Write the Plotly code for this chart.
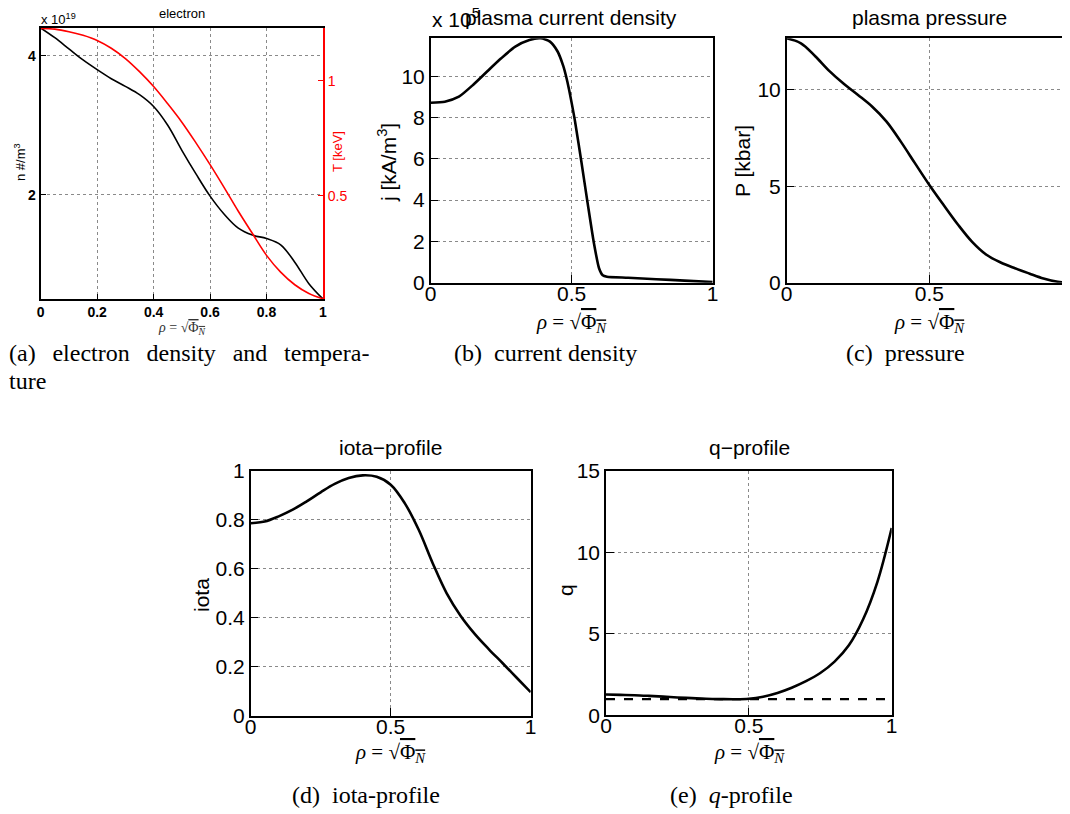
import plotly.graph_objects as go

# page body has an 8px margin: the figure is sized to fill the rest of the window
OFF = 8
W, H = 1070 - OFF, 814 - OFF

# ---------------- data ----------------
rho = [0.0, 0.05, 0.1, 0.15, 0.2, 0.25, 0.3, 0.35, 0.4, 0.45, 0.5, 0.55,
       0.6, 0.65, 0.7, 0.75, 0.8, 0.85, 0.9, 0.95, 1.0]

# (a) electron density [1e19 #/m^3] and temperature [keV]
ne = [4.40, 4.26, 4.10, 3.94, 3.80, 3.67, 3.56, 3.44, 3.27, 3.00, 2.64, 2.30,
      1.98, 1.72, 1.52, 1.42, 1.37, 1.28, 1.03, 0.72, 0.50]
Te = [1.228, 1.225, 1.214, 1.198, 1.176, 1.142, 1.097, 1.040, 0.975, 0.900,
      0.820, 0.730, 0.635, 0.535, 0.432, 0.335, 0.240, 0.167, 0.112, 0.074, 0.051]

# (b) plasma current density [x1e5 kA/m^3]
rho_j = [0.0, 0.05, 0.1, 0.15, 0.2, 0.25, 0.3, 0.35, 0.39, 0.423, 0.45, 0.47,
         0.48, 0.49, 0.5, 0.512, 0.535, 0.556, 0.579, 0.597, 0.61, 0.625, 0.7, 0.8, 0.9, 1.0]
j = [8.72, 8.77, 9.01, 9.58, 10.23, 10.87, 11.44, 11.76, 11.84, 11.68, 11.20, 10.50,
     10.00, 9.40, 8.70, 7.80, 5.80, 3.90, 1.90, 0.70, 0.36, 0.29, 0.24, 0.17, 0.10, 0.03]

# (c) plasma pressure [kbar]
P = [12.68, 12.42, 11.75, 10.98, 10.32, 9.74, 9.13, 8.36, 7.32, 6.19, 5.07, 4.03,
     3.02, 2.12, 1.45, 1.05, 0.75, 0.48, 0.22, 0.05, 0.0]

# (d) rotational transform
iota = [0.786, 0.793, 0.814, 0.841, 0.875, 0.912, 0.946, 0.970, 0.981, 0.975, 0.943,
        0.868, 0.759, 0.623, 0.500, 0.408, 0.335, 0.273, 0.215, 0.156, 0.097]

# (e) safety factor
q = [1.28, 1.26, 1.24, 1.20, 1.15, 1.10, 1.06, 1.02, 1.00, 0.99, 1.02, 1.15,
     1.38, 1.70, 2.10, 2.60, 3.30, 4.30, 5.90, 8.20, 11.50]
q_ref = [1.0, 1.0]
q_ref_x = [0.0, 1.0]

# ---------------- helpers (window pixel -> paper) ----------------
def px(x):
    return (x - OFF) / W

def py(y):
    return 1 - (y - OFF) / H

SANS = "Liberation Sans, Arial, sans-serif"
SERIF = "Liberation Serif, Times New Roman, serif"
BIG = dict(family=SANS, size=21, color="black")
SMALL = dict(family=SANS, size=13, color="black")
GRID = dict(showgrid=True, gridcolor="#8a8a8a", griddash="dot", gridwidth=1)

def xax(dom, rng, tickvals, font, anchor, mirror=True, lw=1.5, ticklen=8, standoff=-9):
    return dict(domain=[px(dom[0]), min(1.0, px(dom[1]))], range=rng, tickvals=tickvals,
                ticktext=[("%g" % t) for t in tickvals], anchor=anchor,
                ticks="inside", ticklen=ticklen, tickcolor="black",
                showline=True, linecolor="black", linewidth=lw, mirror=mirror,
                tickfont=font, zeroline=False, automargin=False,
                ticklabelstandoff=standoff, **GRID)

def yax(dom, rng, tickvals, font, anchor, mirror=True, lw=1.5, ticklen=8):
    return dict(domain=[py(dom[1]), py(dom[0])], range=rng, tickvals=tickvals,
                ticktext=[("%g" % t) for t in tickvals], anchor=anchor,
                ticks="inside", ticklen=ticklen, tickcolor="black",
                showline=True, linecolor="black", linewidth=lw, mirror=mirror,
                tickfont=font, zeroline=False, automargin=False, **GRID)

fig = go.Figure()

def line(xs, ys, xa, ya, width=2.6, color="black", smooth=1.0, dash="solid", shape="spline"):
    ln = dict(color=color, width=width, dash=dash, shape=shape)
    if shape == "spline":
        ln["smoothing"] = smooth
    fig.add_trace(go.Scatter(x=xs, y=ys, mode="lines", line=ln, xaxis=xa, yaxis=ya,
                             showlegend=False, hoverinfo="skip"))

line(rho, ne, "x", "y", width=1.6)
line(rho, Te, "x", "y6", width=1.6, color="red")
line(rho_j, j, "x2", "y2", smooth=0.6)
line(rho, P, "x3", "y3")
line(rho, iota, "x4", "y4")
line(rho, q, "x5", "y5")
line(q_ref_x, q_ref, "x5", "y5", width=2.4, dash="dash", shape="linear")

SMALLB = dict(SMALL, size=14, weight="bold")

fig.update_layout(
    template="none",
    width=W, height=H, margin=dict(l=0, r=0, t=0, b=0, autoexpand=False),
    paper_bgcolor="white", plot_bgcolor="white", showlegend=False,
    xaxis=xax((40.7, 323), [0, 1], [0, 0.2, 0.4, 0.6, 0.8, 1], SMALLB, "y", lw=2, ticklen=5, standoff=-1),
    yaxis=yax((28, 299), [0.5, 4.4], [2, 4], SMALLB, "x", mirror=False, lw=2, ticklen=5),
    yaxis6=dict(overlaying="y", side="right", anchor="x", range=[0.05, 1.23],
                tickvals=[0.5, 1], ticktext=["0.5", "1"], ticks="inside", ticklen=5,
                tickcolor="red", showline=True, linecolor="red", linewidth=2,
                tickfont=dict(SMALL, size=14, color="red"), showgrid=False,
                zeroline=False, automargin=False),
    xaxis2=xax((430.7, 712.7), [0, 1], [0, 0.5, 1], BIG, "y2"),
    yaxis2=yax((38.3, 282.7), [0, 11.84], [0, 2, 4, 6, 8, 10], BIG, "x2"),
    xaxis3=xax((786.7, 1070), [0, 0.993], [0, 0.5, 1], BIG, "y3"),
    yaxis3=yax((38.3, 282.7), [0, 12.68], [0, 5, 10], BIG, "x3", mirror=False),
    xaxis4=xax((250.7, 530.7), [0, 1], [0, 0.5, 1], BIG, "y4"),
    yaxis4=yax((470.7, 716), [0, 1], [0, 0.2, 0.4, 0.6, 0.8, 1], BIG, "x4"),
    xaxis5=xax((606, 891.7), [0, 1], [0, 0.5, 1], BIG, "y5"),
    yaxis5=yax((471, 715.4), [0, 15], [0, 5, 10, 15], BIG, "x5"),
)

RHO = "<i>ρ</i> = √<span style='text-decoration:overline'>Φ<sub><i>N</i></sub></span>"

def ann(text, x, y, font, xanchor="center", yanchor="middle", angle=0):
    fig.add_annotation(text=text, x=px(x), y=py(y), xref="paper", yref="paper",
                       xanchor=xanchor, yanchor=yanchor, showarrow=False,
                       font=font, textangle=angle)

# (a) texts
ann("electron", 182, 14, SMALL)
ann("x 10<sup>19</sup>", 39, 29, SMALL, xanchor="left", yanchor="bottom")
ann("n #/m<sup>3</sup>", 20, 162, SMALL, angle=-90)
ann("T [keV]", 337, 152, dict(SMALL, color="red"), angle=-90)
ann(RHO, 182, 328, dict(family=SERIF, size=14, color="#333"))

# (b)
ann("x 10<sup>5</sup>", 430, 33, BIG, xanchor="left", yanchor="bottom")
ann("plasma current density", 571, 17, BIG)
ann("j [kA/m<sup>3</sup>]", 387, 163, BIG, angle=-90)
ann(RHO, 571, 323, dict(family=SERIF, size=21, color="black"))

# (c)
ann("plasma pressure", 929, 17, BIG)
ann("P [kbar]", 743, 161, BIG, angle=-90)
ann(RHO, 929, 323, dict(family=SERIF, size=21, color="black"))

# (d)
ann("iota−profile", 390, 447, BIG)
ann("iota", 201, 595, BIG, angle=-90)
ann(RHO, 390, 753, dict(family=SERIF, size=21, color="black"))

# (e)
ann("q−profile", 749, 447, BIG)
ann("q", 565, 590, BIG, angle=-90)
ann(RHO, 749, 753, dict(family=SERIF, size=21, color="black"))

# captions
CAP = dict(family=SERIF, size=24, color="black")
GAP = "&nbsp;&nbsp;&#8201;"
ann("(a)" + GAP + "electron" + GAP + "density" + GAP + "and" + GAP + "tempera-", 7, 353, CAP, xanchor="left")
ann("ture", 7, 381, CAP, xanchor="left")
ann("(b)&nbsp;&nbsp;current density", 545, 353, CAP)
ann("(c)&nbsp;&nbsp;pressure", 905, 353, CAP)
ann("(d)&nbsp;&nbsp;iota-profile", 366, 795, CAP)
ann("(e)&nbsp;&nbsp;<i>q</i>-profile", 731, 795, CAP)

fig.write_html("out.html")
